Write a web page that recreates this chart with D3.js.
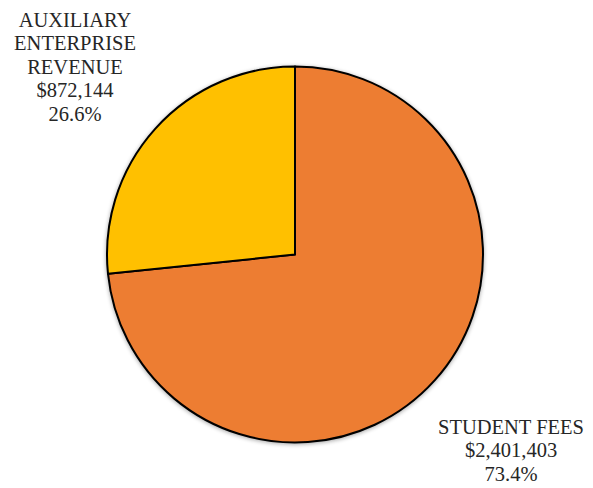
<!DOCTYPE html>
<html>
<head>
<meta charset="utf-8">
<script src="https://cdn.jsdelivr.net/npm/d3@7"></script>
<style>
  html, body { margin: 0; padding: 0; background: #fff; }
  svg text { font-family: "Liberation Serif", "DejaVu Serif", serif; fill: #262626; }
</style>
</head>
<body>
<svg id="chart" width="593" height="488"></svg>
<script>
// Revenue sources
const categories = ["STUDENT FEES", "AUXILIARY ENTERPRISE REVENUE"];
const amounts = [2401403, 872144];
const percentLabels = ["73.4%", "26.6%"];
const colors = ["#ED7D31", "#FFC000"];

const svg = d3.select("#chart");
const cx = 295, cy = 254.5, r = 188;

const defs = svg.append("defs");
const shadow = defs.append("filter").attr("id", "soft").attr("x", "-10%").attr("y", "-10%").attr("width", "120%").attr("height", "120%");
shadow.append("feGaussianBlur").attr("in", "SourceAlpha").attr("stdDeviation", 2).attr("result", "b");
shadow.append("feOffset").attr("in", "b").attr("dx", 0).attr("dy", 1).attr("result", "o");
shadow.append("feComponentTransfer").attr("in", "o").attr("result", "s")
  .append("feFuncA").attr("type", "linear").attr("slope", 0.35);
const merge = shadow.append("feMerge");
merge.append("feMergeNode").attr("in", "s");
merge.append("feMergeNode").attr("in", "SourceGraphic");

const data = categories.map((c, i) => ({ name: c, value: amounts[i], pct: percentLabels[i], color: colors[i] }));

const pie = d3.pie().sort(null).value(d => d.value);
const arc = d3.arc().innerRadius(0).outerRadius(r);

const g = svg.append("g").attr("transform", `translate(${cx},${cy})`).attr("filter", "url(#soft)");
g.selectAll("path")
  .data(pie(data))
  .join("path")
  .attr("d", arc)
  .attr("fill", d => d.data.color)
  .attr("stroke", "#000")
  .attr("stroke-width", 2)
  .attr("stroke-linejoin", "round");

const fmt = d3.format("$,");

// Label blocks: name lines, amount, percent
const labelSpecs = [
  { x: 511, y: 434, lines: ["STUDENT FEES"] },
  { x: 75, y: 27, lines: ["AUXILIARY", "ENTERPRISE", "REVENUE"] }
];
const lineH = 23.4;

data.forEach((d, i) => {
  const spec = labelSpecs[i];
  const lines = spec.lines.concat([fmt(d.value), d.pct]);
  const t = svg.append("text")
    .attr("text-anchor", "middle")
    .attr("font-size", 20.5);
  lines.forEach((ln, k) => {
    t.append("tspan").attr("x", spec.x).attr("y", spec.y + k * lineH).text(ln);
  });
});
</script>
</body>
</html>
